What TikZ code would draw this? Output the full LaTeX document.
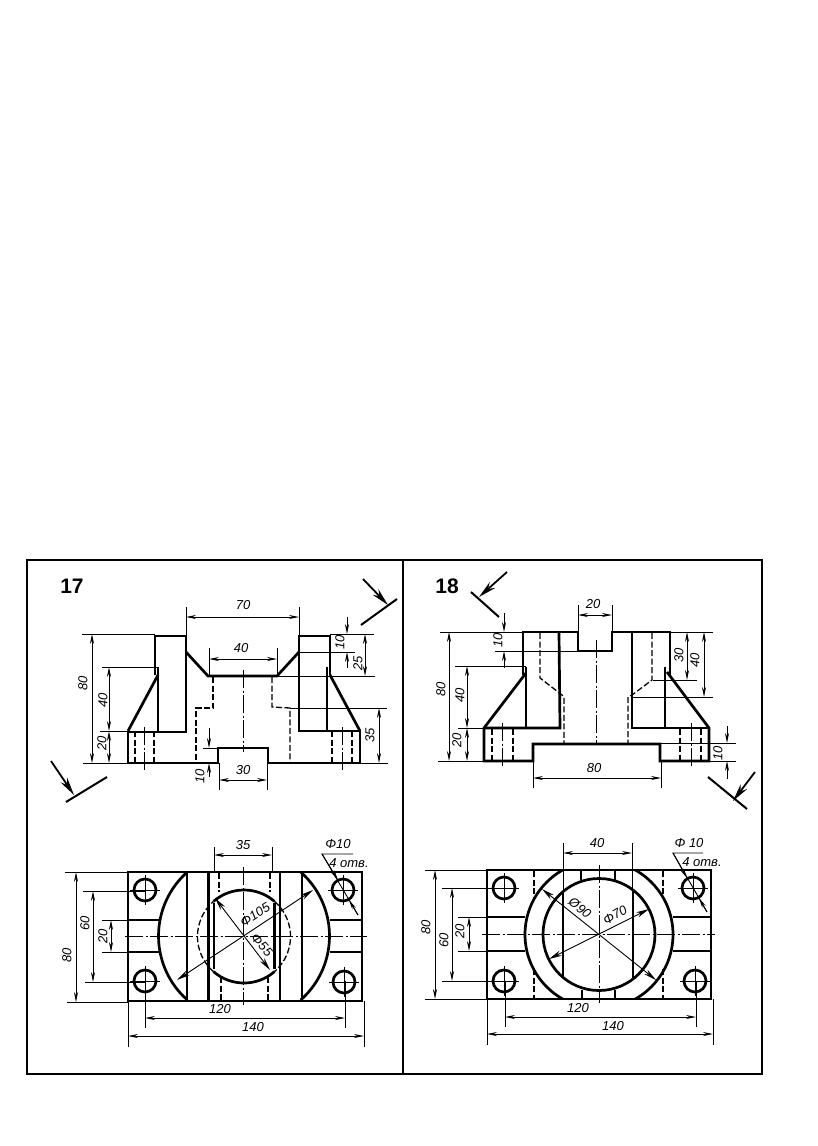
\documentclass[tikz,border=0pt]{standalone}
\usepackage{fontspec}
\setmainfont{Liberation Sans}
\usetikzlibrary{arrows.meta}
\tikzset{
  heavy/.style={line width=2.7,line join=miter},
  frame/.style={line width=2},
  thin line/.style={line width=0.9},
  hidden/.style={line width=1.3,dash pattern=on 6 off 2.5},
  axis/.style={line width=0.9,dash pattern=on 18 off 2.5 on 2 off 2.5},
  dim/.style={line width=0.9,{Stealth[length=10,width=4]}-{Stealth[length=10,width=4]}},
  dimbig/.style={line width=0.9,{Stealth[length=13,width=5.5]}-{Stealth[length=13,width=5.5]}},
  dimto/.style={line width=0.9,-{Stealth[length=10,width=4]}},
  cut/.style={line width=2},
  cutarrow/.style={line width=1.8,-{Stealth[length=18,width=8]}},
  label/.style={inner sep=0,font=\fontsize{13}{15}\selectfont\itshape},
  title/.style={inner sep=0,font=\fontsize{21}{24}\selectfont\bfseries}
}
\begin{document}
\begin{tikzpicture}[x=1pt,y=-1pt]
  \useasboundingbox (0,0) rectangle (817,1146);
  \draw[frame] (27,560) rectangle (762,1074);
  \draw[frame] (403,560) -- (403,1074);
  \node[title] (numA) at (72,586) {17};
  \node[title] (numB) at (447,586) {18};

  % 17, front view
  \draw[heavy] (155,675) -- (155,636) -- (186,636) -- (186,732) -- (128,732) -- (128,763) -- (218,763)
  -- (218,748) -- (268,748) -- (268,763) -- (360,763) -- (360,731) -- (299,731) -- (299,636) -- (330,636) -- (330,675);
  \draw[heavy] (158,667) -- (158,732);
  \draw[heavy] (158,675) -- (128,731);
  \draw[heavy] (327,667) -- (327,731);
  \draw[heavy] (330,675) -- (360,731);
  \draw[heavy] (186,652) -- (208,676) -- (277,676) -- (299,652);
  \draw[hidden] (213,677) -- (213,708) -- (196,708) -- (196,763);
  \draw[hidden] (272,677) -- (272,707) -- (290,708) -- (290,763);
  \draw[hidden] (135,731) -- (135,763);
  \draw[hidden] (154,731) -- (154,763);
  \draw[hidden] (332,731) -- (332,763);
  \draw[hidden] (352,731) -- (352,763);
  \draw[axis] (144,727) -- (144,770);
  \draw[axis] (342,727) -- (342,770);
  \draw[axis] (243,670) -- (243,752);

  \draw[thin line] (186,607) -- (186,636);
  \draw[thin line] (299,607) -- (299,636);
  \draw[dim] (186,617) -- (299,617);
  \node[label] (dimAa) at (243,605) {70};
  \draw[thin line] (209,648) -- (209,676);
  \draw[thin line] (277,648) -- (277,676);
  \draw[dim] (209,659) -- (277,659);
  \node[label] (dimAb) at (241,648) {40};
  \draw[thin line] (82,634) -- (155,634);
  \draw[thin line] (83,763) -- (128,763);
  \draw[dim] (92,634) -- (92,763);
  \node[label,rotate=90] (dimAc) at (83,683) {80};
  \draw[thin line] (102,667) -- (158,667);
  \draw[dim] (109,667) -- (109,731);
  \node[label,rotate=90] (dimAd) at (103,700) {40};
  \draw[thin line] (100,731) -- (128,731);
  \draw[dim] (109,731) -- (109,763);
  \node[label,rotate=90] (dimAe) at (102,743) {20};
  \draw[thin line] (203,748) -- (218,748);
  \draw[dimto] (209,728) -- (209,748);
  \draw[dimto] (209,777) -- (209,763);
  \node[label,rotate=90] (dimAf) at (200,776) {10};
  \draw[thin line] (219,763) -- (219,790);
  \draw[thin line] (267,763) -- (267,790);
  \draw[dim] (219,780) -- (267,780);
  \node[label] (dimAg) at (243,770) {30};
  \draw[thin line] (330,634) -- (374,634);
  \draw[thin line] (299,652) -- (355,652);
  \draw[dimto] (347,617) -- (347,634);
  \draw[dimto] (347,668) -- (347,652);
  \node[label,rotate=90] (dimAh) at (340,642) {10};
  \draw[thin line] (277,676) -- (375,676);
  \draw[dim] (365,634) -- (365,676);
  \node[label,rotate=90] (dimAi) at (358,663) {25};
  \draw[thin line] (290,708) -- (387,708);
  \draw[thin line] (360,763) -- (388,763);
  \draw[dim] (379,708) -- (379,763);
  \node[label,rotate=90] (dimAj) at (370,735) {35};

  \draw[cut] (361,625) -- (397,599);
  \draw[cutarrow] (363,579) -- (388,605);
  \draw[cut] (66,802) -- (107,777);
  \draw[cutarrow] (51,761) -- (74,795);

  % 17, top view
  \draw[heavy] (128,872) rectangle (362,1001);
  \draw[heavy] (128,920) -- (159,920);
  \draw[heavy] (128,952) -- (159,952);
  \draw[heavy] (330,920) -- (362,920);
  \draw[heavy] (330,952) -- (362,952);
  \draw[heavy] (244,936) ++(131.5:85.5) arc[start angle=131.5,end angle=228.5,radius=85.5];
  \draw[heavy] (244,936) ++(-48.5:85.5) arc[start angle=-48.5,end angle=48.5,radius=85.5];
  \draw[heavy] (187,872) -- (187,1001);
  \draw[heavy] (208.5,872) -- (208.5,1001);
  \draw[heavy] (280,872) -- (280,1001);
  \draw[heavy] (302,872) -- (302,1001);
  \draw[heavy] (214,903) -- (214,969);
  \draw[heavy] (274.5,903) -- (274.5,969);
  \draw[heavy] (244,936.5) ++(-131:46.5) arc[start angle=-131,end angle=-49,radius=46.5];
  \draw[heavy] (244,936.5) ++(49:46.5) arc[start angle=49,end angle=131,radius=46.5];
  \draw[hidden] (244,936.5) ++(131:46.5) arc[start angle=131,end angle=229,radius=46.5];
  \draw[hidden] (244,936.5) ++(-49:46.5) arc[start angle=-49,end angle=49,radius=46.5];
  \draw[hidden] (219,873) -- (219,892);
  \draw[hidden] (270,873) -- (270,892);
  \draw[hidden] (221,977) -- (221,1000);
  \draw[hidden] (268,977) -- (268,1000);
  \foreach \x/\y in {145/890,145/981,343/890,344/982} {
    \draw[heavy] (\x,\y) circle [radius=11];
    \draw[thin line] (\x-15,\y) -- (\x+15,\y);
    \draw[thin line] (\x,\y-15) -- (\x,\y+15);
  }
  \draw[axis] (125,936) -- (367,936);
  \draw[axis] (243.5,867) -- (243.5,1005);

  \draw[thin line] (214,847) -- (214,872);
  \draw[thin line] (272,847) -- (272,872);
  \draw[dim] (214,855) -- (272,855);
  \node[label] (dimBa) at (243,845) {35};
  \draw[thin line] (65,872) -- (128,872);
  \draw[thin line] (67,1002) -- (128,1002);
  \draw[dim] (76,872) -- (76,1002);
  \node[label,rotate=90] (dimBb) at (67,955) {80};
  \draw[thin line] (83,891) -- (145,891);
  \draw[thin line] (85,982) -- (145,982);
  \draw[dim] (93,891) -- (93,982);
  \node[label,rotate=90] (dimBc) at (85,923) {60};
  \draw[thin line] (102,920) -- (128,920);
  \draw[thin line] (102,952) -- (128,952);
  \draw[dim] (111,920) -- (111,952);
  \node[label,rotate=90] (dimBd) at (103,936) {20};
  \draw[thin line] (145,981) -- (145,1028);
  \draw[thin line] (345,981) -- (345,1028);
  \draw[dim] (145,1018) -- (345,1018);
  \node[label] (dimBe) at (220,1009) {120};
  \draw[thin line] (128,1001) -- (128,1047);
  \draw[thin line] (364,1001) -- (364,1047);
  \draw[dim] (128,1036) -- (364,1036);
  \node[label] (dimBf) at (253,1027) {140};
  \draw[dimbig] (313,890) -- (177,980);
  \node[label,rotate=33] (dimBg) at (255,915) {Φ105};
  \draw[dimbig] (215,898) -- (270,970);
  \node[label,rotate=-47] (dimBh) at (262,945) {Φ55};
  \node[label] (dimBi) at (338,844) {Φ10};
  \node[label] (dimBj) at (349,863) {4 отв.};
  \draw[thin line] (353,854) -- (322,854) -- (358,915);
  \draw[dimto] (322,854) -- (338,880);
  \draw[dimto] (358,915) -- (349,900);

  % 18, front view
  \draw[heavy] (523,675) -- (523,632) -- (578,632) -- (578,651) -- (612,651) -- (612,632) -- (670,632) -- (670,675);
  \draw[heavy] (526,667) -- (526,728);
  \draw[heavy] (526,673) -- (484,728) -- (484,761) -- (533,761) -- (533,744) -- (660,744) -- (660,761) -- (709,761) -- (709,728) -- (667,672);
  \draw[heavy] (484,728) -- (560,728) -- (559,632);
  \draw[heavy] (632,632) -- (632,728) -- (709,728);
  \draw[heavy] (665,667) -- (665,728);
  \draw[hidden] (540,633) -- (540,678) -- (562,695) -- (564,697) -- (564,744);
  \draw[hidden] (652,633) -- (652,680) -- (632,695) -- (628,697) -- (628,744);
  \draw[hidden] (492,729) -- (492,761);
  \draw[hidden] (513,729) -- (513,761);
  \draw[hidden] (680,729) -- (680,761);
  \draw[hidden] (701,729) -- (701,761);
  \draw[axis] (502,723) -- (502,767);
  \draw[axis] (691,723) -- (691,767);
  \draw[axis] (596,640) -- (596,743);

  \draw[thin line] (578,605) -- (578,632);
  \draw[thin line] (612,605) -- (612,632);
  \draw[dim] (578,615) -- (612,615);
  \node[label] (dimCa) at (593,604) {20};
  \draw[thin line] (440,632) -- (522,632);
  \draw[thin line] (438,761) -- (484,761);
  \draw[dim] (449,632) -- (449,761);
  \node[label,rotate=90] (dimCb) at (441,689) {80};
  \draw[thin line] (455,666) -- (526,666);
  \draw[dim] (467,666) -- (467,728);
  \node[label,rotate=90] (dimCc) at (460,695) {40};
  \draw[thin line] (458,728) -- (484,728);
  \draw[dim] (467,728) -- (467,761);
  \node[label,rotate=90] (dimCd) at (457,740) {20};
  \draw[thin line] (495,651) -- (578,651);
  \draw[dimto] (504,613) -- (504,632);
  \draw[dimto] (504,668) -- (504,651);
  \node[label,rotate=90] (dimCe) at (498,640) {10};
  \draw[thin line] (670,632) -- (713,632);
  \draw[thin line] (653,680) -- (697,680);
  \draw[thin line] (632,697) -- (713,697);
  \draw[dim] (687,632) -- (687,680);
  \node[label,rotate=90] (dimCf) at (679,655) {30};
  \draw[dim] (704,632) -- (704,697);
  \node[label,rotate=90] (dimCg) at (695,660) {40};
  \draw[thin line] (660,743) -- (736,743);
  \draw[thin line] (709,761) -- (736,761);
  \draw[dimto] (727,726) -- (727,743);
  \draw[dimto] (727,779) -- (727,761);
  \node[label,rotate=90] (dimCh) at (718,753) {10};
  \draw[thin line] (533,761) -- (533,788);
  \draw[thin line] (661,761) -- (661,788);
  \draw[dim] (533,778) -- (661,778);
  \node[label] (dimCi) at (594,768) {80};

  \draw[cut] (471,592) -- (499,617);
  \draw[cutarrow] (507,572) -- (479,597);
  \draw[cut] (708,777) -- (747,809);
  \draw[cutarrow] (755,772) -- (733,801);

  % 18, top view
  \draw[heavy] (487,870) rectangle (711,999);
  \draw[heavy] (487,917) -- (525,917);
  \draw[heavy] (487,951) -- (525,951);
  \draw[heavy] (673,917) -- (711,917);
  \draw[heavy] (673,951) -- (711,951);
  \begin{scope}
    \clip (487,870) rectangle (711,999);
    \draw[heavy] (599,934.5) circle [radius=74];
  \end{scope}
  \draw[heavy] (599,934.5) circle [radius=56];
  \draw[heavy] (563,892) -- (563,978);
  \draw[heavy] (633,892) -- (633,978);
  \draw[heavy] (581,870) -- (581,880);
  \draw[heavy] (615,870) -- (615,880);
  \draw[heavy] (582,990) -- (582,999);
  \draw[heavy] (615,990) -- (615,999);
  \draw[hidden] (534,871) -- (534,899);
  \draw[hidden] (534,969) -- (534,998);
  \draw[hidden] (663,871) -- (663,899);
  \draw[hidden] (663,969) -- (663,998);
  \foreach \x/\y in {504/888,504/981,693/888,695/981} {
    \draw[heavy] (\x,\y) circle [radius=11];
    \draw[thin line] (\x-15,\y) -- (\x+15,\y);
    \draw[thin line] (\x,\y-15) -- (\x,\y+15);
  }
  \draw[axis] (482,934) -- (715,934);
  \draw[axis] (599,865) -- (599,1003);

  \draw[thin line] (563,843) -- (563,892);
  \draw[thin line] (632,843) -- (632,892);
  \draw[dim] (563,853) -- (632,853);
  \node[label] (dimDa) at (597,843) {40};
  \draw[thin line] (425,870) -- (487,870);
  \draw[thin line] (425,999) -- (487,999);
  \draw[dim] (435,870) -- (435,999);
  \node[label,rotate=90] (dimDb) at (426,927) {80};
  \draw[thin line] (442,888) -- (504,888);
  \draw[thin line] (442,981) -- (504,981);
  \draw[dim] (452,888) -- (452,981);
  \node[label,rotate=90] (dimDc) at (444,940) {60};
  \draw[thin line] (458,917) -- (487,917);
  \draw[thin line] (458,951) -- (487,951);
  \draw[dim] (469,917) -- (469,951);
  \node[label,rotate=90] (dimDd) at (460,931) {20};
  \draw[thin line] (505,981) -- (505,1027);
  \draw[thin line] (696,981) -- (696,1027);
  \draw[dim] (505,1017) -- (696,1017);
  \node[label] (dimDe) at (578,1008) {120};
  \draw[thin line] (487,999) -- (487,1045);
  \draw[thin line] (713,999) -- (713,1045);
  \draw[dim] (487,1034) -- (713,1034);
  \node[label] (dimDf) at (613,1026) {140};
  \draw[dimbig] (542,889) -- (656,980);
  \node[label,rotate=-38] (dimDg) at (580,908) {Ø90};
  \draw[dimbig] (649,909) -- (549,959);
  \node[label,rotate=30] (dimDh) at (615,915) {Φ70};
  \node[label] (dimDi) at (689,843) {Φ 10};
  \node[label] (dimDj) at (702,862) {4 отв.};
  \draw[thin line] (703,853) -- (673,853) -- (707,912);
  \draw[dimto] (673,853) -- (687,878);
  \draw[dimto] (707,912) -- (699,898);
\end{tikzpicture}
\end{document}
